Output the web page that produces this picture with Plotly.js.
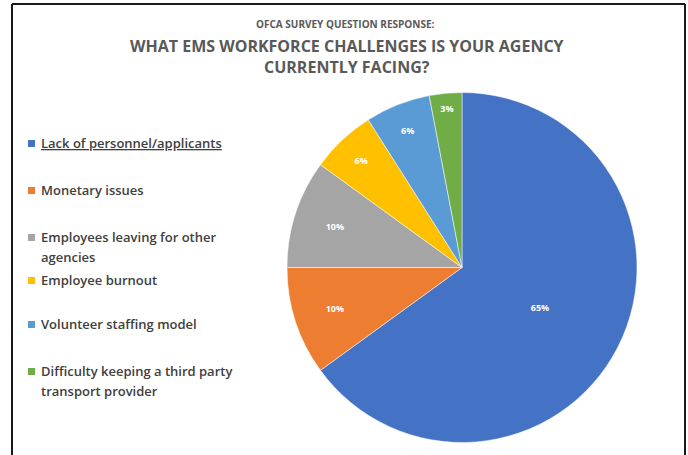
<!DOCTYPE html>
<html>
<head>
<meta charset="utf-8">
<script src="https://cdn.plot.ly/plotly-3.0.1.min.js"></script>
<style>html,body{margin:0;padding:0;background:#fff;}#chart{width:688px;height:455px;}</style>
</head>
<body>
<div id="chart"></div>
<script>
// Data
const categories = [
  "Lack of personnel/applicants",
  "Monetary issues",
  "Employees leaving for other<br>agencies",
  "Employee burnout",
  "Volunteer staffing model",
  "Difficulty keeping a third party<br>transport provider"
];
const values = [65, 10, 10, 6, 6, 3];
const colors = ["#4472C4", "#ED7D31", "#A5A5A5", "#FFC000", "#5B9BD5", "#70AD47"];
const subTitle = "OFCA SURVEY QUESTION RESPONSE:";
const mainTitle = ["WHAT EMS WORKFORCE CHALLENGES IS YOUR AGENCY", "CURRENTLY FACING?"];

const W = 688, H = 455;
const px = x => x / W;
const py = y => 1 - y / H;

// legend layout (pixel rows of the first line of each item)
const legendRows = [143, 190, 237, 280, 324, 371];
const lineGap = 20;
const font = "Open Sans, Liberation Sans, sans-serif";

const annotations = [
  {text: "<b>" + subTitle + "</b>", x: px(345), y: py(24), xref: "paper", yref: "paper",
   showarrow: false, xanchor: "center", yanchor: "middle",
   font: {family: font, size: 10, color: "#595959"}}
];
mainTitle.forEach((t, j) => {
  annotations.push({text: "<b>" + t + "</b>", x: px(347), y: py(46 + j * 21), xref: "paper", yref: "paper",
   showarrow: false, xanchor: "center", yanchor: "middle",
   font: {family: font, size: 16, color: "#595959"}});
});
const shapes = [
  {type: "line", xref: "paper", yref: "paper", x0: px(12), x1: px(12), y0: py(4), y1: py(455), line: {color: "#1a1a1a", width: 2}},
  {type: "line", xref: "paper", yref: "paper", x0: px(12), x1: px(685), y0: py(4), y1: py(4), line: {color: "#1a1a1a", width: 2}},
  {type: "line", xref: "paper", yref: "paper", x0: px(685), x1: px(685), y0: py(4), y1: py(455), line: {color: "#1a1a1a", width: 2}}
];
categories.forEach((c, i) => {
  const y = legendRows[i];
  c.split("<br>").forEach((line, j) => {
    const label = i === 0 ? "<u>" + line + "</u>" : line;
    annotations.push({text: label, x: px(39), y: py(y + j * lineGap), xref: "paper", yref: "paper",
      showarrow: false, xanchor: "left", yanchor: "middle", align: "left",
      font: {family: font, size: 13, color: "#404040", weight: 600}});
  });
  shapes.push({type: "rect", xref: "paper", yref: "paper",
    x0: px(28), x1: px(35), y0: py(y - 3), y1: py(y + 4),
    fillcolor: colors[i], line: {width: 0}});
});

const trace = {
  type: "pie",
  labels: categories,
  values: values,
  sort: false,
  direction: "clockwise",
  rotation: 0,
  marker: {colors: colors, line: {color: "#ffffff", width: 0.5}},
  texttemplate: "%{percent:.0%}",
  textposition: "inside",
  insidetextorientation: "horizontal",
  textfont: {family: font, size: 9, color: "#ffffff", weight: 700},
  hoverinfo: "label+percent",
  domain: {x: [px(287), px(637)], y: [py(445), py(90)]},
  showlegend: false
};

Plotly.newPlot("chart", [trace], {
  width: W, height: H,
  margin: {l: 0, r: 0, t: 0, b: 0},
  paper_bgcolor: "#ffffff",
  showlegend: false,
  annotations: annotations,
  shapes: shapes
}, {displayModeBar: false, staticPlot: true});
</script>
</body>
</html>
